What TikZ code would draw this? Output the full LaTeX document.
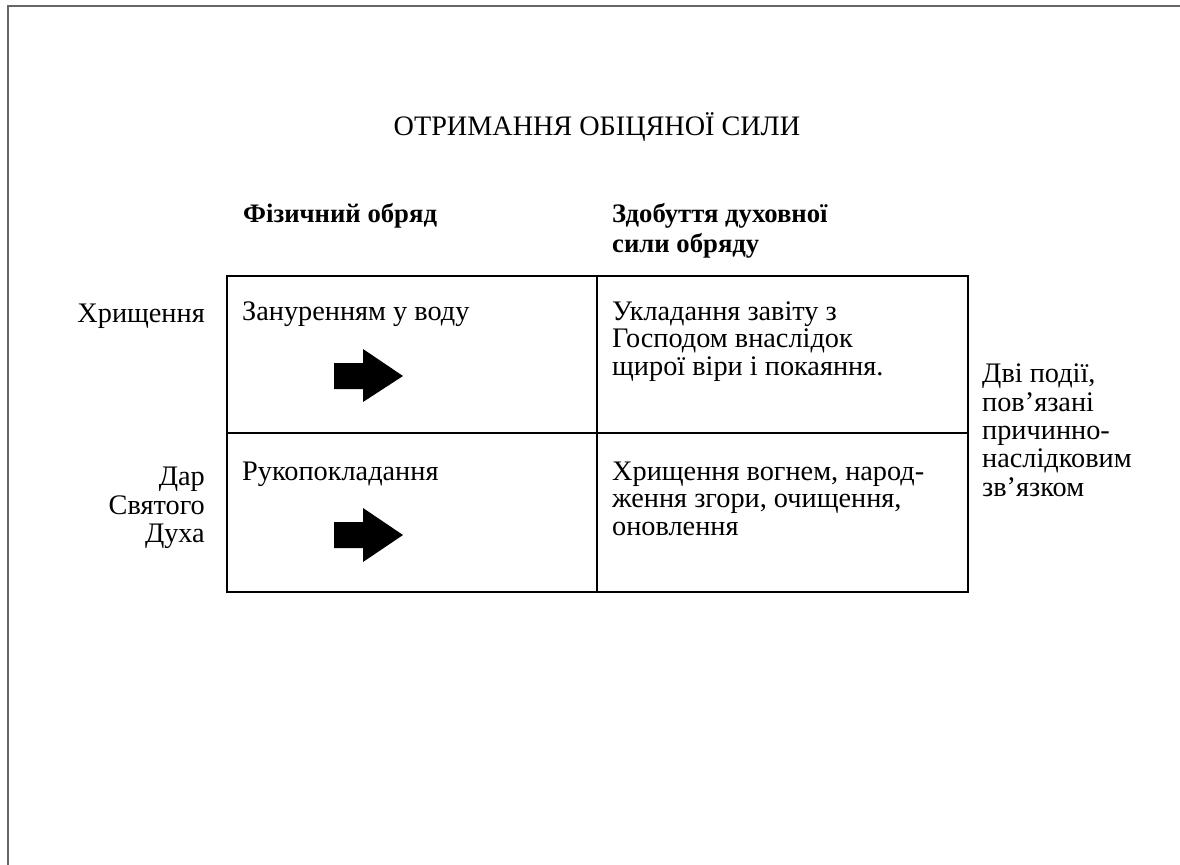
\documentclass[tikz,border=0pt]{standalone}
\usepackage{fontspec}
\setmainfont{Liberation Serif}
\begin{document}
\begin{tikzpicture}[x=1bp,y=-1bp,
  txt/.style={inner sep=0pt, font=\fontsize{28.4}{28}\selectfont},
  ttl/.style={inner sep=0pt, font=\fontsize{28.3}{28}\selectfont},
  hdr/.style={inner sep=0pt, font=\fontsize{26.8}{28}\selectfont\bfseries},
  grid/.style={line width=2bp, black},
  frame/.style={line width=2bp, black!60},
  bigarrow/.style={fill=black, draw=none}]
\useasboundingbox (0,0) rectangle (1180,865);
% outer frame (top and left edges)
\draw[frame] (8,866) -- (8,6) -- (1181,6);
% title
\node[ttl, anchor=base] (title) at (597,135) {ОТРИМАННЯ ОБІЦЯНОЇ СИЛИ};
% column headers
\node[hdr, anchor=base west] (h1) at (243,222) {Фізичний обряд};
\node[hdr, anchor=base west] (h2a) at (612,222) {Здобуття духовної};
\node[hdr, anchor=base west] (h2b) at (612,252) {сили обряду};
% table
\coordinate (tl) at (227,276);
\coordinate (br) at (968,592);
\draw[grid] (tl) rectangle (br);
\draw[grid] (227,433) -- (968,433);
\draw[grid] (597,276) -- (597,592);
% row labels
\node[txt, anchor=base east] (r1) at (205,322) {Хрищення};
\node[txt, anchor=base east] (r2a) at (205,485) {Дар};
\node[txt, anchor=base east] (r2b) at (205,514) {Святого};
\node[txt, anchor=base east] (r2c) at (205,542) {Духа};
% cells
\node[txt, anchor=base west] (c11) at (242,320) {Зануренням у воду};
\node[txt, anchor=base west] (c12a) at (612,320) {Укладання завіту з};
\node[txt, anchor=base west] (c12b) at (612,347.5) {Господом внаслідок};
\node[txt, anchor=base west] (c12c) at (612,375) {щирої віри і покаяння.};
\node[txt, anchor=base west] (c21) at (242,480) {Рукопокладання};
\node[txt, anchor=base west] (c22a) at (612,480) {Хрищення вогнем, народ-};
\node[txt, anchor=base west] (c22b) at (612,507.5) {ження згори, очищення,};
\node[txt, anchor=base west] (c22c) at (612,535) {оновлення};
% arrows
\fill[bigarrow] (334,363) -- (363,363) -- (363,349) -- (403,376) -- (363,402) -- (363,389) -- (334,389) -- cycle;
\fill[bigarrow] (334,522) -- (363,522) -- (363,508) -- (403,535) -- (363,562) -- (363,548) -- (334,548) -- cycle;
% right note
\node[txt, anchor=base west] (n1) at (982,382) {Дві події,};
\node[txt, anchor=base west] (n2) at (982,411) {пов’язані};
\node[txt, anchor=base west] (n3) at (982,439) {причинно-};
\node[txt, anchor=base west] (n4) at (982,467) {наслідковим};
\node[txt, anchor=base west] (n5) at (982,496) {зв’язком};
\end{tikzpicture}
\end{document}
